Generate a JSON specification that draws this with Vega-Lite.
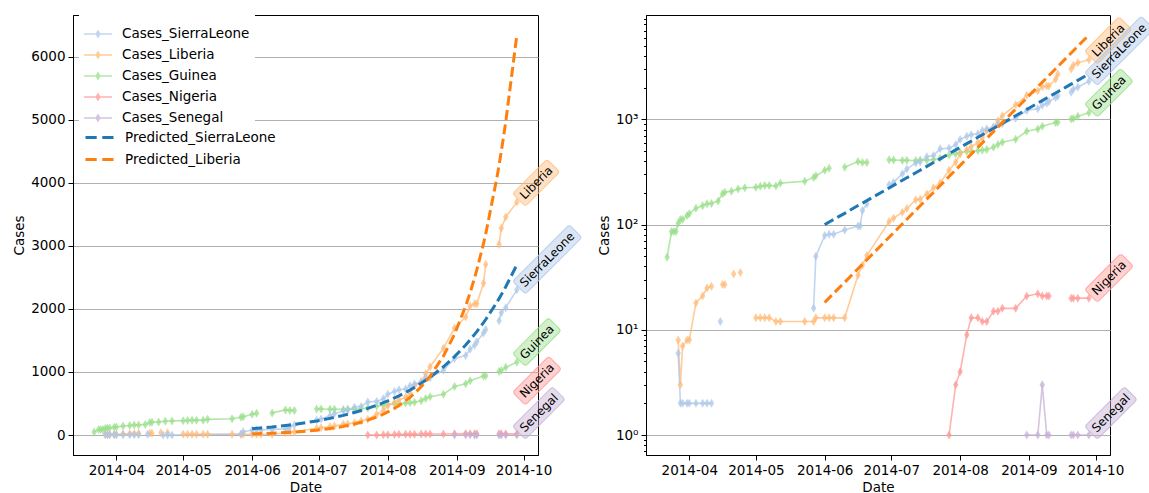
{
  "$schema": "https://vega.github.io/schema/vega-lite/v6.json",
  "background": "white",
  "padding": {"left": 12, "top": 14, "right": 0, "bottom": 0},
  "spacing": 108,
  "bounds": "flush",
  "datasets": {
    "ebola": [
      {"d":"2014-03-22","s":"Cases_Guinea","v":49},{"d":"2014-03-24","s":"Cases_Guinea","v":86},{"d":"2014-03-25","s":"Cases_Guinea","v":86},{"d":"2014-03-26","s":"Cases_Guinea","v":86},{"d":"2014-03-27","s":"Cases_Guinea","v":103},{"d":"2014-03-28","s":"Cases_Guinea","v":112},{"d":"2014-03-29","s":"Cases_Guinea","v":112},{"d":"2014-03-31","s":"Cases_Guinea","v":122},{"d":"2014-04-01","s":"Cases_Guinea","v":127},{"d":"2014-04-04","s":"Cases_Guinea","v":143},{"d":"2014-04-07","s":"Cases_Guinea","v":151},{"d":"2014-04-09","s":"Cases_Guinea","v":158},{"d":"2014-04-11","s":"Cases_Guinea","v":159},{"d":"2014-04-14","s":"Cases_Guinea","v":168},{"d":"2014-04-16","s":"Cases_Guinea","v":197},{"d":"2014-04-17","s":"Cases_Guinea","v":203},{"d":"2014-04-20","s":"Cases_Guinea","v":208},{"d":"2014-04-23","s":"Cases_Guinea","v":218},{"d":"2014-04-26","s":"Cases_Guinea","v":224},{"d":"2014-05-01","s":"Cases_Guinea","v":226},{"d":"2014-05-03","s":"Cases_Guinea","v":231},{"d":"2014-05-05","s":"Cases_Guinea","v":235},{"d":"2014-05-07","s":"Cases_Guinea","v":236},{"d":"2014-05-10","s":"Cases_Guinea","v":233},{"d":"2014-05-12","s":"Cases_Guinea","v":248},{"d":"2014-05-23","s":"Cases_Guinea","v":258},{"d":"2014-05-27","s":"Cases_Guinea","v":281},{"d":"2014-05-28","s":"Cases_Guinea","v":291},{"d":"2014-06-01","s":"Cases_Guinea","v":328},{"d":"2014-06-03","s":"Cases_Guinea","v":344},{"d":"2014-06-05","s":"Cases_Guinea","v":null},{"d":"2014-06-10","s":"Cases_Guinea","v":351},{"d":"2014-06-16","s":"Cases_Guinea","v":398},{"d":"2014-06-18","s":"Cases_Guinea","v":390},{"d":"2014-06-20","s":"Cases_Guinea","v":390},{"d":"2014-06-22","s":"Cases_Guinea","v":null},{"d":"2014-06-30","s":"Cases_Guinea","v":413},{"d":"2014-07-02","s":"Cases_Guinea","v":412},{"d":"2014-07-06","s":"Cases_Guinea","v":408},{"d":"2014-07-08","s":"Cases_Guinea","v":409},{"d":"2014-07-12","s":"Cases_Guinea","v":406},{"d":"2014-07-14","s":"Cases_Guinea","v":411},{"d":"2014-07-17","s":"Cases_Guinea","v":410},{"d":"2014-07-20","s":"Cases_Guinea","v":415},{"d":"2014-07-23","s":"Cases_Guinea","v":427},{"d":"2014-07-27","s":"Cases_Guinea","v":460},{"d":"2014-07-30","s":"Cases_Guinea","v":472},{"d":"2014-08-01","s":"Cases_Guinea","v":485},{"d":"2014-08-04","s":"Cases_Guinea","v":495},{"d":"2014-08-06","s":"Cases_Guinea","v":495},{"d":"2014-08-09","s":"Cases_Guinea","v":506},{"d":"2014-08-11","s":"Cases_Guinea","v":510},{"d":"2014-08-13","s":"Cases_Guinea","v":519},{"d":"2014-08-16","s":"Cases_Guinea","v":543},{"d":"2014-08-18","s":"Cases_Guinea","v":579},{"d":"2014-08-20","s":"Cases_Guinea","v":607},{"d":"2014-08-26","s":"Cases_Guinea","v":648},{"d":"2014-08-31","s":"Cases_Guinea","v":771},{"d":"2014-09-05","s":"Cases_Guinea","v":812},{"d":"2014-09-07","s":"Cases_Guinea","v":861},{"d":"2014-09-13","s":"Cases_Guinea","v":936},{"d":"2014-09-14","s":"Cases_Guinea","v":942},{"d":"2014-09-19","s":"Cases_Guinea","v":null},{"d":"2014-09-20","s":"Cases_Guinea","v":1008},{"d":"2014-09-21","s":"Cases_Guinea","v":1022},{"d":"2014-09-23","s":"Cases_Guinea","v":1074},{"d":"2014-09-28","s":"Cases_Guinea","v":1157},

      {"d":"2014-03-27","s":"Cases_Liberia","v":8},{"d":"2014-03-28","s":"Cases_Liberia","v":3},{"d":"2014-03-29","s":"Cases_Liberia","v":7},{"d":"2014-03-31","s":"Cases_Liberia","v":8},{"d":"2014-04-01","s":"Cases_Liberia","v":8},{"d":"2014-04-04","s":"Cases_Liberia","v":18},{"d":"2014-04-07","s":"Cases_Liberia","v":21},{"d":"2014-04-09","s":"Cases_Liberia","v":25},{"d":"2014-04-11","s":"Cases_Liberia","v":26},{"d":"2014-04-14","s":"Cases_Liberia","v":null},{"d":"2014-04-16","s":"Cases_Liberia","v":27},{"d":"2014-04-17","s":"Cases_Liberia","v":27},{"d":"2014-04-20","s":"Cases_Liberia","v":null},{"d":"2014-04-21","s":"Cases_Liberia","v":34},{"d":"2014-04-22","s":"Cases_Liberia","v":null},{"d":"2014-04-24","s":"Cases_Liberia","v":35},{"d":"2014-04-26","s":"Cases_Liberia","v":null},{"d":"2014-05-01","s":"Cases_Liberia","v":13},{"d":"2014-05-03","s":"Cases_Liberia","v":13},{"d":"2014-05-05","s":"Cases_Liberia","v":13},{"d":"2014-05-07","s":"Cases_Liberia","v":13},{"d":"2014-05-10","s":"Cases_Liberia","v":12},{"d":"2014-05-12","s":"Cases_Liberia","v":12},{"d":"2014-05-23","s":"Cases_Liberia","v":12},{"d":"2014-05-27","s":"Cases_Liberia","v":12},{"d":"2014-05-28","s":"Cases_Liberia","v":13},{"d":"2014-06-01","s":"Cases_Liberia","v":13},{"d":"2014-06-03","s":"Cases_Liberia","v":13},{"d":"2014-06-05","s":"Cases_Liberia","v":13},{"d":"2014-06-10","s":"Cases_Liberia","v":13},{"d":"2014-06-16","s":"Cases_Liberia","v":33},{"d":"2014-06-18","s":"Cases_Liberia","v":41},{"d":"2014-06-20","s":"Cases_Liberia","v":51},{"d":"2014-06-30","s":"Cases_Liberia","v":107},{"d":"2014-07-02","s":"Cases_Liberia","v":115},{"d":"2014-07-06","s":"Cases_Liberia","v":131},{"d":"2014-07-08","s":"Cases_Liberia","v":142},{"d":"2014-07-12","s":"Cases_Liberia","v":172},{"d":"2014-07-14","s":"Cases_Liberia","v":174},{"d":"2014-07-17","s":"Cases_Liberia","v":196},{"d":"2014-07-20","s":"Cases_Liberia","v":224},{"d":"2014-07-23","s":"Cases_Liberia","v":249},{"d":"2014-07-27","s":"Cases_Liberia","v":329},{"d":"2014-07-30","s":"Cases_Liberia","v":391},{"d":"2014-08-01","s":"Cases_Liberia","v":468},{"d":"2014-08-04","s":"Cases_Liberia","v":516},{"d":"2014-08-06","s":"Cases_Liberia","v":554},{"d":"2014-08-09","s":"Cases_Liberia","v":599},{"d":"2014-08-11","s":"Cases_Liberia","v":670},{"d":"2014-08-13","s":"Cases_Liberia","v":786},{"d":"2014-08-16","s":"Cases_Liberia","v":834},{"d":"2014-08-18","s":"Cases_Liberia","v":972},{"d":"2014-08-20","s":"Cases_Liberia","v":1082},{"d":"2014-08-26","s":"Cases_Liberia","v":1378},{"d":"2014-08-31","s":"Cases_Liberia","v":1698},{"d":"2014-09-05","s":"Cases_Liberia","v":1871},{"d":"2014-09-07","s":"Cases_Liberia","v":2046},{"d":"2014-09-09","s":"Cases_Liberia","v":2081},{"d":"2014-09-10","s":"Cases_Liberia","v":2081},{"d":"2014-09-13","s":"Cases_Liberia","v":2407},{"d":"2014-09-14","s":"Cases_Liberia","v":2710},{"d":"2014-09-19","s":"Cases_Liberia","v":null},{"d":"2014-09-20","s":"Cases_Liberia","v":3022},{"d":"2014-09-21","s":"Cases_Liberia","v":3280},{"d":"2014-09-23","s":"Cases_Liberia","v":3458},{"d":"2014-09-28","s":"Cases_Liberia","v":3696},

      {"d":"2014-03-27","s":"Cases_SierraLeone","v":6},{"d":"2014-03-28","s":"Cases_SierraLeone","v":2},{"d":"2014-03-29","s":"Cases_SierraLeone","v":2},{"d":"2014-03-31","s":"Cases_SierraLeone","v":2},{"d":"2014-04-01","s":"Cases_SierraLeone","v":2},{"d":"2014-04-04","s":"Cases_SierraLeone","v":2},{"d":"2014-04-07","s":"Cases_SierraLeone","v":2},{"d":"2014-04-09","s":"Cases_SierraLeone","v":2},{"d":"2014-04-11","s":"Cases_SierraLeone","v":2},{"d":"2014-04-14","s":"Cases_SierraLeone","v":null},{"d":"2014-04-15","s":"Cases_SierraLeone","v":12},{"d":"2014-04-16","s":"Cases_SierraLeone","v":null},{"d":"2014-04-22","s":"Cases_SierraLeone","v":0},{"d":"2014-04-24","s":"Cases_SierraLeone","v":0},{"d":"2014-04-26","s":"Cases_SierraLeone","v":0},{"d":"2014-05-27","s":"Cases_SierraLeone","v":16},{"d":"2014-05-28","s":"Cases_SierraLeone","v":50},{"d":"2014-06-01","s":"Cases_SierraLeone","v":79},{"d":"2014-06-03","s":"Cases_SierraLeone","v":81},{"d":"2014-06-05","s":"Cases_SierraLeone","v":81},{"d":"2014-06-10","s":"Cases_SierraLeone","v":89},{"d":"2014-06-16","s":"Cases_SierraLeone","v":97},{"d":"2014-06-17","s":"Cases_SierraLeone","v":97},{"d":"2014-06-18","s":"Cases_SierraLeone","v":136},{"d":"2014-06-20","s":"Cases_SierraLeone","v":158},{"d":"2014-06-22","s":"Cases_SierraLeone","v":null},{"d":"2014-06-30","s":"Cases_SierraLeone","v":239},{"d":"2014-07-02","s":"Cases_SierraLeone","v":252},{"d":"2014-07-06","s":"Cases_SierraLeone","v":305},{"d":"2014-07-08","s":"Cases_SierraLeone","v":337},{"d":"2014-07-12","s":"Cases_SierraLeone","v":386},{"d":"2014-07-14","s":"Cases_SierraLeone","v":397},{"d":"2014-07-17","s":"Cases_SierraLeone","v":442},{"d":"2014-07-20","s":"Cases_SierraLeone","v":454},{"d":"2014-07-23","s":"Cases_SierraLeone","v":525},{"d":"2014-07-27","s":"Cases_SierraLeone","v":533},{"d":"2014-07-30","s":"Cases_SierraLeone","v":574},{"d":"2014-08-01","s":"Cases_SierraLeone","v":646},{"d":"2014-08-04","s":"Cases_SierraLeone","v":691},{"d":"2014-08-06","s":"Cases_SierraLeone","v":717},{"d":"2014-08-09","s":"Cases_SierraLeone","v":730},{"d":"2014-08-11","s":"Cases_SierraLeone","v":783},{"d":"2014-08-13","s":"Cases_SierraLeone","v":810},{"d":"2014-08-16","s":"Cases_SierraLeone","v":848},{"d":"2014-08-18","s":"Cases_SierraLeone","v":907},{"d":"2014-08-20","s":"Cases_SierraLeone","v":910},{"d":"2014-08-26","s":"Cases_SierraLeone","v":1026},{"d":"2014-08-31","s":"Cases_SierraLeone","v":1216},{"d":"2014-09-05","s":"Cases_SierraLeone","v":1261},{"d":"2014-09-07","s":"Cases_SierraLeone","v":1361},{"d":"2014-09-09","s":"Cases_SierraLeone","v":1424},{"d":"2014-09-10","s":"Cases_SierraLeone","v":1478},{"d":"2014-09-13","s":"Cases_SierraLeone","v":1620},{"d":"2014-09-14","s":"Cases_SierraLeone","v":1673},{"d":"2014-09-19","s":"Cases_SierraLeone","v":null},{"d":"2014-09-20","s":"Cases_SierraLeone","v":1813},{"d":"2014-09-21","s":"Cases_SierraLeone","v":1940},{"d":"2014-09-23","s":"Cases_SierraLeone","v":2021},{"d":"2014-09-28","s":"Cases_SierraLeone","v":2304},

      {"d":"2014-07-23","s":"Cases_Nigeria","v":0},{"d":"2014-07-27","s":"Cases_Nigeria","v":1},{"d":"2014-07-30","s":"Cases_Nigeria","v":3},{"d":"2014-08-01","s":"Cases_Nigeria","v":4},{"d":"2014-08-04","s":"Cases_Nigeria","v":9},{"d":"2014-08-06","s":"Cases_Nigeria","v":13},{"d":"2014-08-09","s":"Cases_Nigeria","v":13},{"d":"2014-08-11","s":"Cases_Nigeria","v":12},{"d":"2014-08-13","s":"Cases_Nigeria","v":12},{"d":"2014-08-16","s":"Cases_Nigeria","v":15},{"d":"2014-08-18","s":"Cases_Nigeria","v":15},{"d":"2014-08-20","s":"Cases_Nigeria","v":16},{"d":"2014-08-26","s":"Cases_Nigeria","v":16},{"d":"2014-08-31","s":"Cases_Nigeria","v":21},{"d":"2014-09-05","s":"Cases_Nigeria","v":22},{"d":"2014-09-07","s":"Cases_Nigeria","v":21},{"d":"2014-09-09","s":"Cases_Nigeria","v":21},{"d":"2014-09-10","s":"Cases_Nigeria","v":21},{"d":"2014-09-14","s":"Cases_Nigeria","v":null},{"d":"2014-09-20","s":"Cases_Nigeria","v":20},{"d":"2014-09-21","s":"Cases_Nigeria","v":20},{"d":"2014-09-23","s":"Cases_Nigeria","v":20},{"d":"2014-09-28","s":"Cases_Nigeria","v":20},

      {"d":"2014-08-31","s":"Cases_Senegal","v":1},{"d":"2014-09-05","s":"Cases_Senegal","v":1},{"d":"2014-09-07","s":"Cases_Senegal","v":3},{"d":"2014-09-09","s":"Cases_Senegal","v":1},{"d":"2014-09-10","s":"Cases_Senegal","v":1},{"d":"2014-09-14","s":"Cases_Senegal","v":null},{"d":"2014-09-20","s":"Cases_Senegal","v":1},{"d":"2014-09-21","s":"Cases_Senegal","v":1},{"d":"2014-09-23","s":"Cases_Senegal","v":1},{"d":"2014-09-28","s":"Cases_Senegal","v":1},

      {"d":"2014-06-01","s":"Predicted_SierraLeone","v":100},{"d":"2014-06-03","s":"Predicted_SierraLeone","v":106},{"d":"2014-06-05","s":"Predicted_SierraLeone","v":112},{"d":"2014-06-10","s":"Predicted_SierraLeone","v":128},{"d":"2014-06-16","s":"Predicted_SierraLeone","v":152},{"d":"2014-06-17","s":"Predicted_SierraLeone","v":156},{"d":"2014-06-18","s":"Predicted_SierraLeone","v":160},{"d":"2014-06-20","s":"Predicted_SierraLeone","v":169},{"d":"2014-06-22","s":"Predicted_SierraLeone","v":179},{"d":"2014-06-30","s":"Predicted_SierraLeone","v":223},{"d":"2014-07-02","s":"Predicted_SierraLeone","v":236},{"d":"2014-07-06","s":"Predicted_SierraLeone","v":264},{"d":"2014-07-08","s":"Predicted_SierraLeone","v":279},{"d":"2014-07-12","s":"Predicted_SierraLeone","v":311},{"d":"2014-07-14","s":"Predicted_SierraLeone","v":329},{"d":"2014-07-17","s":"Predicted_SierraLeone","v":358},{"d":"2014-07-20","s":"Predicted_SierraLeone","v":389},{"d":"2014-07-23","s":"Predicted_SierraLeone","v":422},{"d":"2014-07-27","s":"Predicted_SierraLeone","v":472},{"d":"2014-07-30","s":"Predicted_SierraLeone","v":513},{"d":"2014-08-01","s":"Predicted_SierraLeone","v":542},{"d":"2014-08-04","s":"Predicted_SierraLeone","v":589},{"d":"2014-08-06","s":"Predicted_SierraLeone","v":622},{"d":"2014-08-09","s":"Predicted_SierraLeone","v":676},{"d":"2014-08-11","s":"Predicted_SierraLeone","v":715},{"d":"2014-08-13","s":"Predicted_SierraLeone","v":755},{"d":"2014-08-16","s":"Predicted_SierraLeone","v":821},{"d":"2014-08-18","s":"Predicted_SierraLeone","v":868},{"d":"2014-08-20","s":"Predicted_SierraLeone","v":917},{"d":"2014-08-26","s":"Predicted_SierraLeone","v":1083},{"d":"2014-08-31","s":"Predicted_SierraLeone","v":1244},{"d":"2014-09-05","s":"Predicted_SierraLeone","v":1428},{"d":"2014-09-07","s":"Predicted_SierraLeone","v":1510},{"d":"2014-09-09","s":"Predicted_SierraLeone","v":1596},{"d":"2014-09-10","s":"Predicted_SierraLeone","v":1641},{"d":"2014-09-13","s":"Predicted_SierraLeone","v":1783},{"d":"2014-09-14","s":"Predicted_SierraLeone","v":1833},{"d":"2014-09-19","s":"Predicted_SierraLeone","v":2105},{"d":"2014-09-20","s":"Predicted_SierraLeone","v":2164},{"d":"2014-09-21","s":"Predicted_SierraLeone","v":2225},{"d":"2014-09-23","s":"Predicted_SierraLeone","v":2352},{"d":"2014-09-28","s":"Predicted_SierraLeone","v":2701},

      {"d":"2014-06-01","s":"Predicted_Liberia","v":18.2},{"d":"2014-06-03","s":"Predicted_Liberia","v":20.1},{"d":"2014-06-05","s":"Predicted_Liberia","v":22.2},{"d":"2014-06-10","s":"Predicted_Liberia","v":28.3},{"d":"2014-06-16","s":"Predicted_Liberia","v":38.1},{"d":"2014-06-17","s":"Predicted_Liberia","v":40.0},{"d":"2014-06-18","s":"Predicted_Liberia","v":42.0},{"d":"2014-06-20","s":"Predicted_Liberia","v":46.4},{"d":"2014-06-22","s":"Predicted_Liberia","v":51.1},{"d":"2014-06-30","s":"Predicted_Liberia","v":75.8},{"d":"2014-07-02","s":"Predicted_Liberia","v":83.7},{"d":"2014-07-06","s":"Predicted_Liberia","v":101.8},{"d":"2014-07-08","s":"Predicted_Liberia","v":112.4},{"d":"2014-07-12","s":"Predicted_Liberia","v":136.8},{"d":"2014-07-14","s":"Predicted_Liberia","v":151.0},{"d":"2014-07-17","s":"Predicted_Liberia","v":175.0},{"d":"2014-07-20","s":"Predicted_Liberia","v":202.8},{"d":"2014-07-23","s":"Predicted_Liberia","v":235.1},{"d":"2014-07-27","s":"Predicted_Liberia","v":286.3},{"d":"2014-07-30","s":"Predicted_Liberia","v":331.7},{"d":"2014-08-01","s":"Predicted_Liberia","v":366.0},{"d":"2014-08-04","s":"Predicted_Liberia","v":424.3},{"d":"2014-08-06","s":"Predicted_Liberia","v":468.1},{"d":"2014-08-09","s":"Predicted_Liberia","v":542.6},{"d":"2014-08-11","s":"Predicted_Liberia","v":598.7},{"d":"2014-08-13","s":"Predicted_Liberia","v":660.7},{"d":"2014-08-16","s":"Predicted_Liberia","v":765.7},{"d":"2014-08-18","s":"Predicted_Liberia","v":844.9},{"d":"2014-08-20","s":"Predicted_Liberia","v":932.3},{"d":"2014-08-26","s":"Predicted_Liberia","v":1252},{"d":"2014-08-31","s":"Predicted_Liberia","v":1601},{"d":"2014-09-05","s":"Predicted_Liberia","v":2048},{"d":"2014-09-07","s":"Predicted_Liberia","v":2260},{"d":"2014-09-09","s":"Predicted_Liberia","v":2494},{"d":"2014-09-10","s":"Predicted_Liberia","v":2619},{"d":"2014-09-13","s":"Predicted_Liberia","v":3036},{"d":"2014-09-14","s":"Predicted_Liberia","v":3189},{"d":"2014-09-19","s":"Predicted_Liberia","v":4078},{"d":"2014-09-20","s":"Predicted_Liberia","v":4284},{"d":"2014-09-21","s":"Predicted_Liberia","v":4501},{"d":"2014-09-23","s":"Predicted_Liberia","v":4967},{"d":"2014-09-28","s":"Predicted_Liberia","v":6348}
    ],
    "labels": [
      {"d":"2014-09-28","s":"Liberia","v":3696},
      {"d":"2014-09-28","s":"SierraLeone","v":2304},
      {"d":"2014-09-28","s":"Guinea","v":1157},
      {"d":"2014-09-28","s":"Nigeria","v":20},
      {"d":"2014-09-28","s":"Senegal","v":1}
    ]
  },
  "resolve": {"scale": {"color": "independent"}, "legend": {"color": "independent"}},
  "hconcat": [
    {
      "width": 465,
      "height": 440,
      "encoding": {
        "x": {"field": "d", "type": "temporal",
          "scale": {"type": "utc", "domain": [{"year":2014,"month":3,"date":12,"hours":12,"utc":true},{"year":2014,"month":10,"date":7,"hours":12,"utc":true}]},
          "axis": {"title": "Date", "format": "%Y-%m", "labelFlush": false, "labelOverlap": false, "grid": false,
            "values": [{"year":2014,"month":4,"date":1,"utc":true},{"year":2014,"month":5,"date":1,"utc":true},{"year":2014,"month":6,"date":1,"utc":true},{"year":2014,"month":7,"date":1,"utc":true},{"year":2014,"month":8,"date":1,"utc":true},{"year":2014,"month":9,"date":1,"utc":true},{"year":2014,"month":10,"date":1,"utc":true}]}},
        "y": {"field": "v", "type": "quantitative",
          "scale": {"domain": [-317.4, 6665.4], "nice": false, "zero": false},
          "axis": {"title": "Cases", "values": [0,1000,2000,3000,4000,5000,6000], "format": "d", "grid": true}}
      },
      "resolve": {"scale": {"color": "independent"}, "legend": {"color": "independent"}},
      "layer": [
        {
          "data": {"name": "ebola"},
          "transform": [{"filter": "indexof(datum.s, 'Cases') == 0"}],
          "mark": {"type": "line", "strokeWidth": 1.6, "opacity": 0.75, "invalid": "break-paths-filter-domains"},
          "encoding": {
            "color": {"field": "s", "type": "nominal",
              "scale": {"domain": ["Cases_SierraLeone","Cases_Liberia","Cases_Guinea","Cases_Nigeria","Cases_Senegal"],
                        "range": ["#aec7e8","#ffbb78","#98df8a","#ff9896","#c5b0d5"]},
              "legend": null}
          }
        },
        {
          "data": {"name": "ebola"},
          "transform": [{"filter": "indexof(datum.s, 'Cases') == 0 && datum.v != null"}],
          "mark": {"type": "point", "filled": true, "shape": "M0,-1L0.6,0L0,1L-0.6,0Z", "size": 81, "opacity": 0.75},
          "encoding": {
            "color": {"field": "s", "type": "nominal",
              "scale": {"domain": ["Cases_SierraLeone","Cases_Liberia","Cases_Guinea","Cases_Nigeria","Cases_Senegal"],
                        "range": ["#aec7e8","#ffbb78","#98df8a","#ff9896","#c5b0d5"]},
              "legend": {"orient": "none", "legendX": 6, "legendY": 0, "title": null, "padding": 5, "fillColor": "white",
                "labelFontSize": 13.5, "labelFont": "DejaVu Sans", "labelColor": "black", "labelLimit": 0,
                "symbolType": "M-1,-0.055H1V0.055H-1ZM0,-0.32L0.19,0L0,0.32L-0.19,0Z", "symbolSize": 784, "symbolStrokeWidth": 0, "symbolOpacity": 0.75,
                "rowPadding": 0, "labelOffset": 10}}
          }
        },
        {
          "data": {"name": "ebola"},
          "transform": [{"filter": "indexof(datum.s, 'Predicted') == 0"}],
          "mark": {"type": "line", "strokeWidth": 3, "strokeDash": [10, 4.5]},
          "encoding": {
            "color": {"field": "s", "type": "nominal",
              "scale": {"domain": ["Predicted_SierraLeone","Predicted_Liberia"], "range": ["#1f77b4","#ff7f0e"]},
              "legend": {"orient": "none", "legendX": 6, "legendY": 102, "title": null, "padding": 5,
                "labelFontSize": 13.5, "labelFont": "DejaVu Sans", "labelColor": "black", "labelLimit": 0,
                "symbolType": "stroke", "symbolSize": 784, "symbolStrokeWidth": 3, "symbolDash": [11.2, 5.6], "symbolOpacity": 1,
                "rowPadding": -1, "labelOffset": 10}}
          }
        },
        {"data": {"name": "labels"}, "transform": [{"filter": "datum.s == 'Liberia'"}],
         "mark": {"type": "point", "filled": true, "angle": -45, "size": 4, "strokeWidth": 1, "fillOpacity": 0.45, "strokeOpacity": 0.8, "fill": "#ffbb78", "stroke": "#ffbb78", "shape": "M6,-9H48.6Q51.6,-9 51.6,-6V6Q51.6,9 48.6,9H6Q3,9 3,6V-6Q3,-9 6,-9Z"}},
        {"data": {"name": "labels"}, "transform": [{"filter": "datum.s == 'SierraLeone'"}],
         "mark": {"type": "point", "filled": true, "angle": -45, "size": 4, "strokeWidth": 1, "fillOpacity": 0.45, "strokeOpacity": 0.8, "fill": "#aec7e8", "stroke": "#aec7e8", "shape": "M6,-9H80Q83,-9 83,-6V6Q83,9 80,9H6Q3,9 3,6V-6Q3,-9 6,-9Z"}},
        {"data": {"name": "labels"}, "transform": [{"filter": "datum.s == 'Guinea'"}],
         "mark": {"type": "point", "filled": true, "angle": -45, "size": 4, "strokeWidth": 1, "fillOpacity": 0.45, "strokeOpacity": 0.8, "fill": "#98df8a", "stroke": "#98df8a", "shape": "M6,-9H50.6Q53.6,-9 53.6,-6V6Q53.6,9 50.6,9H6Q3,9 3,6V-6Q3,-9 6,-9Z"}},
        {"data": {"name": "labels"}, "transform": [{"filter": "datum.s == 'Nigeria'"}],
         "mark": {"type": "point", "filled": true, "angle": -45, "size": 4, "strokeWidth": 1, "fillOpacity": 0.45, "strokeOpacity": 0.8, "fill": "#ff9896", "stroke": "#ff9896", "yOffset": -33, "shape": "M6,-9H51Q54,-9 54,-6V6Q54,9 51,9H6Q3,9 3,6V-6Q3,-9 6,-9Z"}},
        {"data": {"name": "labels"}, "transform": [{"filter": "datum.s == 'Senegal'"}],
         "mark": {"type": "point", "filled": true, "angle": -45, "size": 4, "strokeWidth": 1, "fillOpacity": 0.45, "strokeOpacity": 0.8, "fill": "#c5b0d5", "stroke": "#c5b0d5", "shape": "M6,-9H56.3Q59.3,-9 59.3,-6V6Q59.3,9 56.3,9H6Q3,9 3,6V-6Q3,-9 6,-9Z"}},
        {
          "data": {"name": "labels"},
          "transform": [{"filter": "datum.s != 'Nigeria'"}],
          "mark": {"type": "text", "angle": -45, "align": "left", "baseline": "middle", "dx": 7, "dy": 0, "fontSize": 12, "font": "DejaVu Sans", "color": "black"},
          "encoding": {"text": {"field": "s"}}
        },
        {
          "data": {"name": "labels"},
          "transform": [{"filter": "datum.s == 'Nigeria'"}],
          "mark": {"type": "text", "angle": -45, "align": "left", "baseline": "middle", "dx": 7, "dy": 0, "fontSize": 12, "font": "DejaVu Sans", "color": "black", "yOffset": -33},
          "encoding": {"text": {"field": "s"}}
        }
      ]
    },
    {
      "width": 464,
      "height": 440,
      "encoding": {
        "x": {"field": "d", "type": "temporal",
          "scale": {"type": "utc", "domain": [{"year":2014,"month":3,"date":12,"hours":12,"utc":true},{"year":2014,"month":10,"date":7,"hours":12,"utc":true}]},
          "axis": {"title": "Date", "format": "%Y-%m", "labelFlush": false, "labelOverlap": false, "grid": false,
            "values": [{"year":2014,"month":4,"date":1,"utc":true},{"year":2014,"month":5,"date":1,"utc":true},{"year":2014,"month":6,"date":1,"utc":true},{"year":2014,"month":7,"date":1,"utc":true},{"year":2014,"month":8,"date":1,"utc":true},{"year":2014,"month":9,"date":1,"utc":true},{"year":2014,"month":10,"date":1,"utc":true}]}}
      },
      "resolve": {"axis": {"y": "independent"}},
      "layer": [
        {
          "data": {"name": "ebola"},
          "transform": [{"filter": "indexof(datum.s, 'Cases') == 0 && (datum.v == null || datum.v > 0)"}],
          "mark": {"type": "line", "strokeWidth": 1.6, "opacity": 0.75, "invalid": "break-paths-filter-domains"},
          "encoding": {
            "y": {"field": "v", "type": "quantitative",
              "scale": {"type": "log", "domain": [0.6456, 9834], "nice": false, "zero": false},
              "axis": {"title": "Cases", "values": [1, 10, 100, 1000], "grid": true, "orient": "left",
                "labelExpr": "datum.value == 1 ? '10⁰' : datum.value == 10 ? '10¹' : datum.value == 100 ? '10²' : '10³'"}},
            "color": {"field": "s", "type": "nominal",
              "scale": {"domain": ["Cases_SierraLeone","Cases_Liberia","Cases_Guinea","Cases_Nigeria","Cases_Senegal","Predicted_SierraLeone","Predicted_Liberia"],
                        "range": ["#aec7e8","#ffbb78","#98df8a","#ff9896","#c5b0d5","#1f77b4","#ff7f0e"]},
              "legend": null}
          }
        },
        {
          "data": {"name": "ebola"},
          "transform": [{"filter": "indexof(datum.s, 'Cases') == 0 && datum.v != null && datum.v > 0"}],
          "mark": {"type": "point", "filled": true, "shape": "M0,-1L0.6,0L0,1L-0.6,0Z", "size": 81, "opacity": 0.75},
          "encoding": {
            "y": {"field": "v", "type": "quantitative", "axis": null},
            "color": {"field": "s", "type": "nominal", "legend": null}
          }
        },
        {
          "data": {"name": "ebola"},
          "transform": [{"filter": "indexof(datum.s, 'Predicted') == 0"}],
          "mark": {"type": "line", "strokeWidth": 3, "strokeDash": [10, 4.5]},
          "encoding": {
            "y": {"field": "v", "type": "quantitative",
              "axis": {"orient": "left", "title": null, "labels": false, "grid": false, "domain": false, "tickSize": 2.5,
                "values": [0.7,0.8,0.9,2,3,4,5,6,7,8,9,20,30,40,50,60,70,80,90,200,300,400,500,600,700,800,900,2000,3000,4000,5000,6000,7000,8000,9000]}},
            "color": {"field": "s", "type": "nominal", "legend": null}
          }
        },
        {"data": {"name": "labels"}, "transform": [{"filter": "datum.s == 'Liberia'"}],
         "mark": {"type": "point", "filled": true, "angle": -45, "size": 4, "strokeWidth": 1, "fillOpacity": 0.45, "strokeOpacity": 0.8, "fill": "#ffbb78", "stroke": "#ffbb78", "shape": "M6,-9H48.6Q51.6,-9 51.6,-6V6Q51.6,9 48.6,9H6Q3,9 3,6V-6Q3,-9 6,-9Z"},
         "encoding": {"y": {"field": "v", "type": "quantitative", "axis": null}}},
        {"data": {"name": "labels"}, "transform": [{"filter": "datum.s == 'SierraLeone'"}],
         "mark": {"type": "point", "filled": true, "angle": -45, "size": 4, "strokeWidth": 1, "fillOpacity": 0.45, "strokeOpacity": 0.8, "fill": "#aec7e8", "stroke": "#aec7e8", "shape": "M6,-9H80Q83,-9 83,-6V6Q83,9 80,9H6Q3,9 3,6V-6Q3,-9 6,-9Z"},
         "encoding": {"y": {"field": "v", "type": "quantitative", "axis": null}}},
        {"data": {"name": "labels"}, "transform": [{"filter": "datum.s == 'Guinea'"}],
         "mark": {"type": "point", "filled": true, "angle": -45, "size": 4, "strokeWidth": 1, "fillOpacity": 0.45, "strokeOpacity": 0.8, "fill": "#98df8a", "stroke": "#98df8a", "shape": "M6,-9H50.6Q53.6,-9 53.6,-6V6Q53.6,9 50.6,9H6Q3,9 3,6V-6Q3,-9 6,-9Z"},
         "encoding": {"y": {"field": "v", "type": "quantitative", "axis": null}}},
        {"data": {"name": "labels"}, "transform": [{"filter": "datum.s == 'Nigeria'"}],
         "mark": {"type": "point", "filled": true, "angle": -45, "size": 4, "strokeWidth": 1, "fillOpacity": 0.45, "strokeOpacity": 0.8, "fill": "#ff9896", "stroke": "#ff9896", "shape": "M6,-9H51Q54,-9 54,-6V6Q54,9 51,9H6Q3,9 3,6V-6Q3,-9 6,-9Z"},
         "encoding": {"y": {"field": "v", "type": "quantitative", "axis": null}}},
        {"data": {"name": "labels"}, "transform": [{"filter": "datum.s == 'Senegal'"}],
         "mark": {"type": "point", "filled": true, "angle": -45, "size": 4, "strokeWidth": 1, "fillOpacity": 0.45, "strokeOpacity": 0.8, "fill": "#c5b0d5", "stroke": "#c5b0d5", "shape": "M6,-9H56.3Q59.3,-9 59.3,-6V6Q59.3,9 56.3,9H6Q3,9 3,6V-6Q3,-9 6,-9Z"},
         "encoding": {"y": {"field": "v", "type": "quantitative", "axis": null}}},
        {
          "data": {"name": "labels"},
          "mark": {"type": "text", "angle": -45, "align": "left", "baseline": "middle", "dx": 7, "dy": 0, "fontSize": 12, "font": "DejaVu Sans", "color": "black"},
          "encoding": {
            "y": {"field": "v", "type": "quantitative", "axis": null},
            "text": {"field": "s"}
          }
        }
      ]
    }
  ],
  "config": {
    "font": "DejaVu Sans",
    "view": {"stroke": "black", "strokeWidth": 1},
    "axis": {"labelFontSize": 13.5, "titleFontSize": 13.5, "labelFont": "DejaVu Sans", "titleFont": "DejaVu Sans", "labelColor": "black", "titleColor": "black", "titleFontWeight": "normal",
      "tickColor": "black", "domainColor": "black", "tickSize": 5, "tickWidth": 1, "gridColor": "#b0b0b0", "gridWidth": 1, "labelPadding": 3},
    "axisX": {"titlePadding": 4},
    "axisY": {"titlePadding": 4}
  }
}
